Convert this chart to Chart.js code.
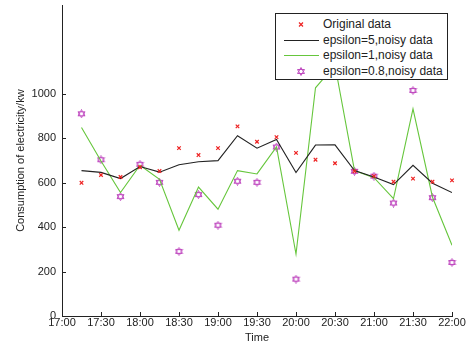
<!DOCTYPE html>
<html>
<head>
<meta charset="utf-8">
<script src="https://cdn.jsdelivr.net/npm/chart.js@4"></script>
<style>
  body { margin: 0; background: #fff; }
  #wrap { position: relative; width: 470px; height: 345px; }
  #legend {
    position: absolute; left: 275px; top: 13px; width: 171px; height: 65px;
    border: 1px solid #222; background: #fff;
    font: 12px "Liberation Sans", Arial, sans-serif; color: #222;
  }
  .row { position: absolute; left: 0; height: 15px; line-height: 15px; }
  .row span { position: absolute; left: 47px; white-space: nowrap; }
  .row svg { position: absolute; left: 7px; top: 0; }
</style>
</head>
<body>
<div id="wrap">
  <canvas id="chart" width="470" height="345"></canvas>
  <div id="legend">
    <div class="row" style="top:3px"><svg width="36" height="15"><path d="M16 5.5 L20 9.5 M20 5.5 L16 9.5" stroke="#ee2222" stroke-width="1.2"/></svg><span>Original data</span></div>
    <div class="row" style="top:19px"><svg width="36" height="15"><line x1="1" y1="7.5" x2="36" y2="7.5" stroke="#222" stroke-width="1"/></svg><span>epsilon=5,noisy data</span></div>
    <div class="row" style="top:34px"><svg width="36" height="15"><line x1="1" y1="7.5" x2="36" y2="7.5" stroke="#66c63c" stroke-width="1"/></svg><span>epsilon=1,noisy data</span></div>
    <div class="row" style="top:50px"><svg width="36" height="15"><path d="M18 3.5 L21.5 9.5 L14.5 9.5 Z M18 11.5 L14.5 5.5 L21.5 5.5 Z" fill="none" stroke="#c04cc0" stroke-width="1"/></svg><span>epsilon=0.8,noisy data</span></div>
  </div>
</div>
<script>
// data, one point every 15 minutes
const times = ['17:15','17:30','17:45','18:00','18:15','18:30','18:45','19:00','19:15','19:30',
               '19:45','20:00','20:15','20:30','20:45','21:00','21:15','21:30','21:45','22:00'];
const original = [600, 635, 626, 670, 653, 756, 725, 756, 854, 785, 806, 735, 704, 688, 652, 630, 605, 619, 605, 611];
const eps5 = [655, 647, 619, 673, 648, 681, 695, 700, 812, 756, 795, 646, 770, 771, 655, 626, 592, 679, 598, 556];
const eps1 = [849, 698, 556, 679, 616, 386, 581, 481, 655, 640, 762, 279, 1028, 1130, 655, 623, 529, 933, 535, 319];
const eps08 = [911, 704, 538, 683, 602, 291, 547, 409, 607, 602, 761, 166, 1250, 1200, 652, 630, 509, 1016, 533, 241];
const yTicks = [0, 200, 400, 600, 800, 1000];

const start = 17 * 60;
function toMin(t) {
    const p = t.split(':');
    return +p[0] * 60 + +p[1] - start;
}
function toLabel(m) {
    const t = m + start;
    return Math.floor(t / 60) + ':' + String(t % 60).padStart(2, '0');
}
function pts(vals) {
    return vals.map((v, i) => ({ x: toMin(times[i]), y: v }));
}

// hexagram marker
const star = document.createElement('canvas');
star.width = 9; star.height = 9;
(function () {
    const c = star.getContext('2d');
    c.strokeStyle = '#c04cc0';
    c.lineWidth = 1;
    c.beginPath();
    c.moveTo(4.5, 0.5); c.lineTo(8, 6.5); c.lineTo(1, 6.5); c.closePath();
    c.moveTo(4.5, 8.5); c.lineTo(1, 2.5); c.lineTo(8, 2.5); c.closePath();
    c.stroke();
})();

// ticks pointing inward, like the original
const inwardTicks = {
    id: 'inwardTicks',
    afterDraw(chart) {
        const { ctx, chartArea: a, scales: { x, y } } = chart;
        ctx.save();
        ctx.strokeStyle = '#222';
        ctx.lineWidth = 1;
        ctx.beginPath();
        for (let m = 0; m <= 300; m += 30) {
            const px = Math.round(x.getPixelForValue(m)) + 0.5;
            ctx.moveTo(px, a.bottom); ctx.lineTo(px, a.bottom - 4);
        }
        yTicks.forEach(v => {
            const py = Math.round(y.getPixelForValue(v)) + 0.5;
            ctx.moveTo(a.left, py); ctx.lineTo(a.left + 4, py);
        });
        ctx.stroke();
        ctx.restore();
    }
};

const font = { family: '"Liberation Sans", Arial, sans-serif', size: 11 };

new Chart(document.getElementById('chart'), {
    type: 'line',
    data: {
        datasets: [
            {
                label: 'Original data',
                data: pts(original),
                showLine: false,
                pointStyle: 'crossRot',
                pointRadius: 2.5,
                borderColor: '#ee2222',
                pointBorderWidth: 1.2,
                clip: 6
            },
            {
                label: 'epsilon=5,noisy data',
                data: pts(eps5),
                borderColor: '#222222',
                borderWidth: 1.1,
                pointRadius: 0,
                tension: 0
            },
            {
                label: 'epsilon=1,noisy data',
                data: pts(eps1),
                borderColor: '#66c63c',
                borderWidth: 1.1,
                pointRadius: 0,
                tension: 0
            },
            {
                label: 'epsilon=0.8,noisy data',
                data: pts(eps08),
                showLine: false,
                pointStyle: star,
                borderColor: '#c04cc0',
                clip: 6
            }
        ]
    },
    options: {
        responsive: false,
        animation: false,
        layout: { padding: { top: 4, right: 18, left: 14, bottom: 0 } },
        plugins: { legend: { display: false }, tooltip: { enabled: false } },
        scales: {
            x: {
                type: 'linear',
                min: 0,
                max: 300,
                grid: { display: false, drawTicks: false },
                border: { display: true, color: '#222', width: 1 },
                ticks: {
                    stepSize: 30,
                    color: '#222',
                    font: font,
                    padding: 0,
                    maxRotation: 0,
                    autoSkip: false,
                    callback: v => toLabel(v)
                },
                title: { display: true, text: 'Time', color: '#222', font: font, padding: { top: 0, bottom: 0 } },
                afterFit(s) { s.height = 29; }
            },
            y: {
                min: 0,
                max: 1400,
                grid: { display: false, drawTicks: false },
                border: { display: true, color: '#222', width: 1 },
                ticks: {
                    stepSize: 200,
                    color: '#222',
                    font: font,
                    padding: 6,
                    callback: v => (yTicks.includes(v) ? v : '')
                },
                title: { display: true, text: 'Consumption of electricity/kw', color: '#222', font: font, padding: { top: 0, bottom: 2 } },
                afterFit(s) { s.width = 48; s.paddingTop = 0; s.paddingBottom = 0; }
            }
        }
    },
    plugins: [inwardTicks]
});
</script>
</body>
</html>
